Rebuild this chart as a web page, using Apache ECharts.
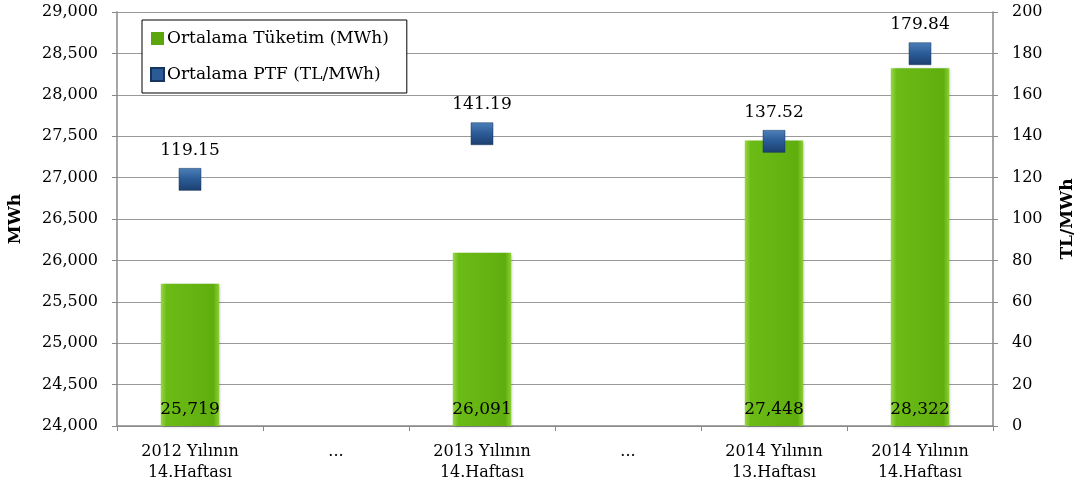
<!DOCTYPE html>
<html><head><meta charset="utf-8">
<script src="https://cdn.jsdelivr.net/npm/echarts@6/dist/echarts.min.js"></script>
<style>html,body{margin:0;padding:0;background:#fff}#c{width:1076px;height:496px}</style>
</head><body><div id="c"></div>
<script>
const categories = ["2012 Yılının\n14.Haftası", "...", "2013 Yılının\n14.Haftası", "...", "2014 Yılının\n13.Haftası", "2014 Yılının\n14.Haftası"];
const consumption = [25719, null, 26091, null, 27448, 28322];
const ptf = [119.15, null, 141.19, null, 137.52, 179.84];
const leftTicks = {min: 24000, max: 29000, interval: 500};
const rightTicks = {min: 0, max: 200, interval: 20};

const FONT = "DejaVu Serif";
const chart = echarts.init(document.getElementById('c'), null, {renderer: 'canvas'});
const green = new echarts.graphic.LinearGradient(0, 0, 1, 0, [
  {offset: 0, color: '#98d843'}, {offset: 0.1, color: '#6bbb16'},
  {offset: 0.9, color: '#60ae0e'}, {offset: 1, color: '#8ccf34'}]);
const blue = new echarts.graphic.LinearGradient(0, 0, 0, 1, [
  {offset: 0, color: '#4d7fb8'}, {offset: 0.5, color: '#2b5b96'}, {offset: 1, color: '#1c3f6e'}]);
chart.setOption({
  animation: false,
  textStyle: {fontFamily: FONT, color: '#000'},
  grid: {left: 117, right: 83, top: 12, bottom: 70, containLabel: false, outerBoundsMode: 'none'},
  legend: {
    orient: 'vertical', left: 142, top: 20,
    backgroundColor: '#fff', borderColor: '#000', borderWidth: 1,
    padding: [10, 18, 10, 8], itemGap: 19, itemWidth: 13, itemHeight: 13,
    textStyle: {fontFamily: FONT, fontSize: 17, color: '#000', padding: [0, 0, 0, -2]},
    data: [{name: 'Ortalama Tüketim (MWh)', icon: 'rect', itemStyle: {color: '#5aa60c'}},
           {name: 'Ortalama PTF (TL/MWh)', icon: 'rect', itemStyle: {color: '#2b5b96'}}]
  },
  xAxis: {
    type: 'category', data: categories,
    axisLine: {lineStyle: {color: '#888', width: 1.5}},
    axisTick: {show: true, length: 5, lineStyle: {color: '#888'}},
    axisLabel: {interval: 0, fontFamily: FONT, fontSize: 16, color: '#000', lineHeight: 21, margin: 15}
  },
  yAxis: [{
    type: 'value', min: leftTicks.min, max: leftTicks.max, interval: leftTicks.interval,
    name: 'MWh', nameLocation: 'middle', nameGap: 93, nameRotate: 90,
    nameTextStyle: {fontFamily: FONT, fontSize: 17, fontWeight: 'bold', color: '#000'},
    axisLine: {show: true, lineStyle: {color: '#888', width: 1.5}},
    axisTick: {show: true, length: 5, lineStyle: {color: '#888'}},
    splitLine: {lineStyle: {color: '#999', width: 1.2}},
    axisLabel: {fontFamily: FONT, fontSize: 16, color: '#000', margin: 19,
      formatter: v => v.toLocaleString('en-US')}
  }, {
    type: 'value', min: rightTicks.min, max: rightTicks.max, interval: rightTicks.interval,
    name: 'TL/MWh', nameLocation: 'middle', nameGap: 66, nameRotate: 90,
    nameTextStyle: {fontFamily: FONT, fontSize: 17, fontWeight: 'bold', color: '#000'},
    axisLine: {show: true, lineStyle: {color: '#888', width: 1.5}},
    axisTick: {show: true, length: 5, lineStyle: {color: '#888'}},
    splitLine: {show: false},
    axisLabel: {fontFamily: FONT, fontSize: 16, color: '#000', margin: 19}
  }],
  series: [{
    name: 'Ortalama Tüketim (MWh)', type: 'bar', data: consumption, barWidth: '40%',
    itemStyle: {color: green, shadowColor: 'rgba(0,0,0,0.25)', shadowBlur: 3, shadowOffsetX: 1, shadowOffsetY: 1},
    label: {show: true, position: 'insideBottom', distance: 8, fontFamily: FONT, fontSize: 17, color: '#000',
      formatter: p => p.value.toLocaleString('en-US')}
  }, {
    name: 'Ortalama PTF (TL/MWh)', type: 'line', yAxisIndex: 1, data: ptf,
    connectNulls: false, lineStyle: {width: 0, opacity: 0},
    symbol: 'rect', symbolSize: 22, showAllSymbol: true,
    itemStyle: {color: blue, borderColor: '#16355e', borderWidth: 0.5},
    label: {show: true, position: 'top', distance: 9, fontFamily: FONT, fontSize: 17, color: '#000',
      formatter: p => p.value.toFixed(2)}
  }]
});
</script></body></html>
